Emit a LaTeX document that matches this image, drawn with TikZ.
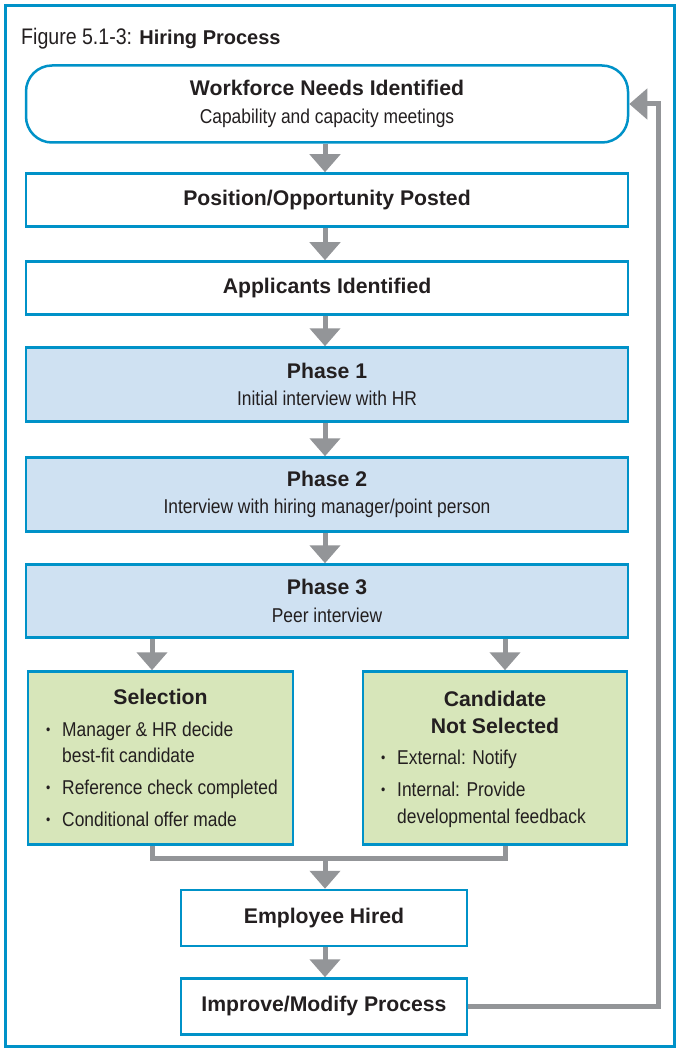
\documentclass[tikz,border=0pt]{standalone}
\usepackage{fontspec}
\setmainfont{Liberation Sans}[FakeStretch=0.87]
\newfontfamily\hdfont{Liberation Sans}
\usetikzlibrary{arrows.meta}
\definecolor{frameblue}{RGB}{0,146,200}
\definecolor{arrgray}{RGB}{147,149,152}
\definecolor{phasefill}{RGB}{207,225,242}
\definecolor{greenfill}{RGB}{215,230,186}
\definecolor{txt}{RGB}{35,31,32}
\newcommand{\hd}{\hdfont\bfseries\fontsize{21.2}{27}\selectfont}
\tikzset{
  stepbox/.style={draw=frameblue, line width=2.5pt, fill=white, align=center,
    text=txt, inner sep=0pt, font=\fontsize{20}{27.5}\selectfont},
  phasebox/.style={stepbox, fill=phasefill},
  greenbox/.style={stepbox, fill=greenfill},
  flow/.style={draw=arrgray, line width=5pt, -{Triangle[width=30pt,length=18pt]}},
  link/.style={draw=arrgray, line width=5pt},
  item/.style={anchor=base west, inner sep=0pt, text=txt, font=\fontsize{20}{27}\selectfont},
  bul/.style={anchor=base west, inner sep=0pt, text=txt, font=\fontsize{14}{14}\selectfont},
  ctr/.style={anchor=base, inner sep=0pt, text=txt, font=\hd}
}
\begin{document}
\begin{tikzpicture}[x=1pt,y=-1pt]
\useasboundingbox (0,0) rectangle (678,1048);
\fill[white] (0,0) rectangle (678,1048);
\draw[frameblue, line width=3pt] (5,6) rectangle (674,1046);

% caption
\node[anchor=base west, inner sep=0pt, text=txt, font=\fontsize{22.5}{24}\selectfont] (cap) at (21,45)
  {Figure 5.1-3: {\hdfont\bfseries\fontsize{20}{24}\selectfont Hiring Process}};

% main column
\node[stepbox, rounded corners=26pt, minimum width=602pt, minimum height=77pt] (needs) at (327,104)
  {{\hd Workforce Needs Identified}\\ Capability and capacity meetings};
\node[stepbox, minimum width=602pt, minimum height=53pt] (post) at (327,200)
  {\hd Position/Opportunity Posted};
\node[stepbox, minimum width=602pt, minimum height=53pt] (appl) at (327,288)
  {\hd Applicants Identified};
\node[phasebox, minimum width=602pt, minimum height=74pt] (ph1) at (327,384.5)
  {{\hd Phase 1}\\ Initial interview with HR};
\node[phasebox, minimum width=602pt, minimum height=74pt] (ph2) at (327,494.5)
  {{\hd Phase 2}\\ Interview with hiring manager/point person};
\node[phasebox, minimum width=602pt, minimum height=73pt] (ph3) at (327,601)
  {{\hd Phase 3}\\ Peer interview};

% outcome boxes
\node[greenbox, minimum width=265pt, minimum height=173pt] (sel) at (160.5,758) {};
\node[greenbox, minimum width=264pt, minimum height=173pt] (cand) at (495,758) {};

\node[ctr] (selh) at (160.5,704) {Selection};
\node[bul] (sb1) at (46,734) {•};
\node[item] (s1) at (62,736) {Manager \& HR decide};
\node[item] (s1b) at (62,762.5) {best-fit candidate};
\node[bul] (sb2) at (46,792) {•};
\node[item] (s2) at (62,794) {Reference check completed};
\node[bul] (sb3) at (46,824) {•};
\node[item] (s3) at (62,826) {Conditional offer made};

\node[ctr] (canh1) at (495,706) {Candidate};
\node[ctr] (canh2) at (495,733.5) {Not Selected};
\node[bul] (cb1) at (381,762) {•};
\node[item] (c1) at (397,764) {External: Notify};
\node[bul] (cb2) at (381,794) {•};
\node[item] (c2) at (397,796) {Internal: Provide};
\node[item] (c2b) at (397,823) {developmental feedback};

% final boxes
\node[stepbox, minimum width=286pt, minimum height=56pt] (hired) at (324,918)
  {\hd Employee Hired};
\node[stepbox, minimum width=286pt, minimum height=56pt] (impr) at (324,1006.5)
  {\hd Improve/Modify Process};

% connectors
\coordinate (lx) at (152,0);
\coordinate (rx) at (505,0);
\coordinate (mx) at (325,0);
\coordinate (join) at (325,858);
\draw[flow] (needs.south -| mx) -- (post.north -| mx);
\draw[flow] (post.south -| mx) -- (appl.north -| mx);
\draw[flow] (appl.south -| mx) -- (ph1.north -| mx);
\draw[flow] (ph1.south -| mx) -- (ph2.north -| mx);
\draw[flow] (ph2.south -| mx) -- (ph3.north -| mx);
\draw[flow] (ph3.south -| lx) -- (sel.north -| lx);
\draw[flow] (ph3.south -| rx) -- (cand.north -| rx);
\draw[link] (sel.south -| lx) |- (join) -| (cand.south -| rx);
\draw[flow] (join) -- (hired.north -| mx);
\draw[flow] (hired.south -| mx) -- (impr.north -| mx);
\draw[flow] (impr.east) -- ++(190,0) |- (needs.east);
\end{tikzpicture}
\end{document}
